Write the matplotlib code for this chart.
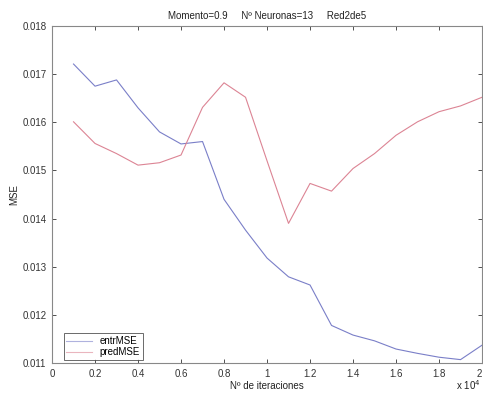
import matplotlib
matplotlib.use("Agg")
import matplotlib.pyplot as plt

# Training iterations and the MSE recorded at each checkpoint
iteraciones = [1000, 2000, 3000, 4000, 5000, 6000, 7000, 8000, 9000, 10000,
               11000, 12000, 13000, 14000, 15000, 16000, 17000, 18000, 19000, 20000]
entr_mse = [0.01721, 0.01675, 0.01688, 0.01630, 0.01580, 0.01555, 0.01560, 0.01440,
            0.01376, 0.01318, 0.01279, 0.01262, 0.01178, 0.01158, 0.01146, 0.01129,
            0.01120, 0.01112, 0.01107, 0.01137]
pred_mse = [0.01601, 0.01556, 0.01535, 0.01511, 0.01516, 0.01532, 0.01631, 0.01682,
            0.01652, 0.01520, 0.01390, 0.01473, 0.01457, 0.01504, 0.01535, 0.01573,
            0.01601, 0.01622, 0.01634, 0.01652]

x_ticks = [0, 0.2, 0.4, 0.6, 0.8, 1, 1.2, 1.4, 1.6, 1.8, 2]
x_tick_labels = ["0", "0.2", "0.4", "0.6", "0.8", "1", "1.2", "1.4", "1.6", "1.8", "2"]
y_ticks = [0.011, 0.012, 0.013, 0.014, 0.015, 0.016, 0.017, 0.018]
y_tick_labels = ["0.011", "0.012", "0.013", "0.014", "0.015", "0.016", "0.017", "0.018"]
escala = 1e4

plt.rcParams["font.family"] = ["Liberation Sans", "DejaVu Sans"]
plt.rcParams["font.size"] = 7

fig = plt.figure(figsize=(4.83, 3.94), dpi=100)
ax = fig.add_axes([0.1077, 0.0787, 0.8903, 0.8553])

x = [it / escala for it in iteraciones]
ax.plot(x, entr_mse, color="#7a7fc8", lw=0.8, label="entrMSE")
ax.plot(x, pred_mse, color="#dc8494", lw=0.8, label="predMSE")

ax.set_xlim(0, 2)
ax.set_ylim(0.011, 0.018)
ax.set_xticks(x_ticks)
ax.set_xticklabels(x_tick_labels)
ax.set_yticks(y_ticks)
ax.set_yticklabels(y_tick_labels)
ax.tick_params(direction="in", length=3, width=0.6, colors="#333333",
               top=True, right=True, labelsize=7, pad=4)
# keep the last x label inside the figure edge
ax.get_xticklabels()[-1].set_horizontalalignment("right")
for s in ax.spines.values():
    s.set_color("#888888")
    s.set_linewidth(0.8)

ax.set_title("Momento=0.9     Nº Neuronas=13     Red2de5", fontsize=7, color="#222222", pad=5)
ax.set_xlabel("Nº de iteraciones", fontsize=7, color="#222222", labelpad=2)
ax.set_ylabel("MSE", fontsize=7, color="#222222", labelpad=2)

fig.text(0.945, 0.004, r"x 10$^4$", fontsize=7, color="#222222", va="bottom")

leg = ax.legend(loc="lower left", fontsize=7, frameon=True, fancybox=False,
                handlelength=2.6, borderpad=0.3, labelspacing=0.1,
                borderaxespad=0.3, bbox_to_anchor=(0.02, 0.0))
leg.get_frame().set_edgecolor("#444444")
leg.get_frame().set_linewidth(0.7)
for line in leg.get_lines():
    line.set_alpha(0.6)

fig.savefig("out.png", dpi=100)
